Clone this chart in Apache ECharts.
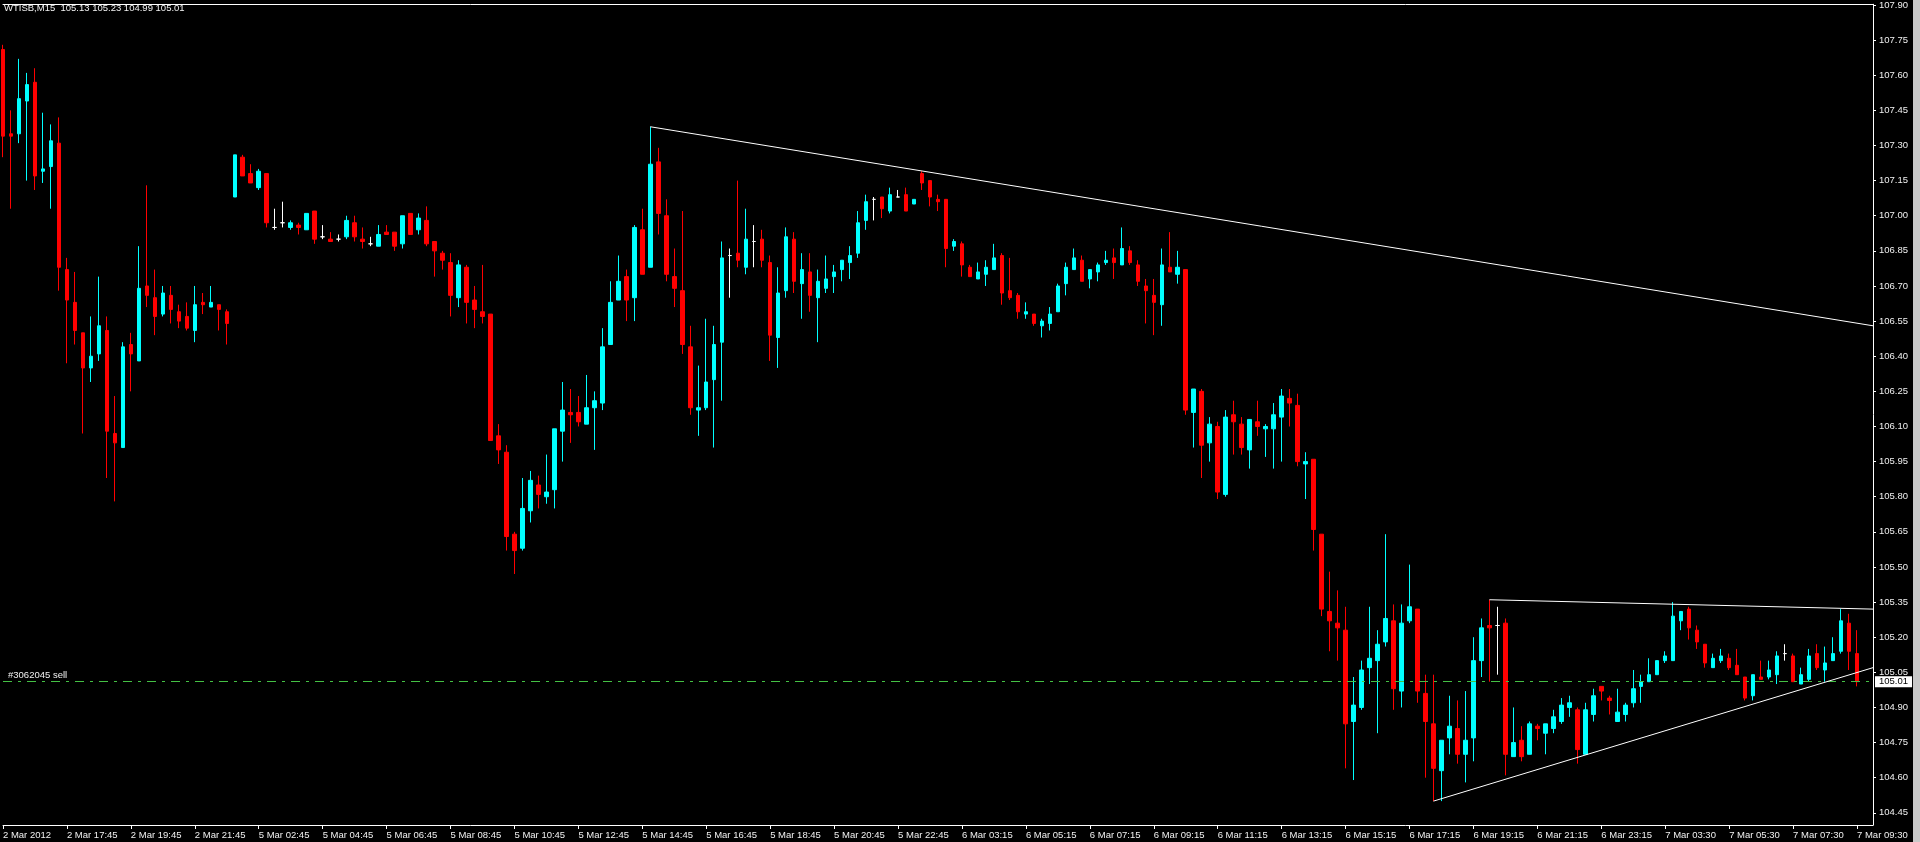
<!DOCTYPE html>
<html>
<head>
<meta charset="utf-8">
<script src="https://cdn.jsdelivr.net/npm/echarts@6/dist/echarts.min.js"></script>
<style>
html,body{margin:0;padding:0;background:#000;}
#chart{width:1920px;height:842px;}
</style>
</head>
<body>
<div id="chart"></div>
<script>
// ---- data (WTISB, M15) ----
const symbolName = 'WTISB,M15';
const opens = [
107.71,107.35,107.35,107.49,107.57,107.19,107.21,107.31,106.77,106.63,
106.50,106.35,106.41,106.51,106.07,106.01,106.45,106.38,106.70,106.65,
106.58,106.66,106.59,106.57,106.51,106.63,106.61,106.62,106.59,107.08,
107.25,107.18,107.12,107.18,106.95,106.97,106.95,106.96,106.94,107.02,
106.91,106.90,106.90,106.91,106.97,106.90,106.88,106.87,106.93,106.93,
106.88,107.01,106.94,106.98,106.89,106.84,106.80,106.65,106.78,106.64,
106.59,106.58,106.06,105.99,105.64,105.58,105.74,105.85,105.80,105.83,
106.08,106.16,106.16,106.11,106.18,106.20,106.45,106.64,106.74,106.65,
106.94,106.78,107.23,107.00,106.74,106.68,106.44,106.17,106.18,106.30,
106.46,106.83,106.84,106.78,106.89,106.90,106.80,106.48,106.68,106.90,
106.71,106.76,106.65,106.69,106.74,106.77,106.80,106.84,106.98,107.07,
107.08,107.02,107.08,107.09,107.05,107.18,107.15,107.07,107.07,106.87,
106.88,106.78,106.73,106.75,106.77,106.83,106.68,106.66,106.58,106.58,
106.53,106.54,106.59,106.71,106.77,106.81,106.73,106.76,106.80,106.82,
106.79,106.85,106.79,106.70,106.66,106.62,106.78,106.75,106.77,106.16,
106.25,106.03,106.10,105.81,106.15,106.11,106.00,106.12,106.09,106.09,
106.14,106.22,106.19,105.94,105.96,105.64,105.31,105.26,105.23,104.84,
104.90,105.07,105.10,105.18,105.27,104.97,105.27,105.32,104.96,104.83,
104.63,104.77,104.81,104.70,104.77,105.10,105.25,105.25,105.26,104.69,
104.76,104.70,104.82,104.79,104.81,104.84,104.90,104.89,104.70,104.87,
104.99,104.94,104.84,104.87,104.92,104.99,105.01,105.04,105.10,105.10,
105.27,105.32,105.23,105.17,105.07,105.10,105.11,105.08,105.03,104.95,
105.03,105.03,105.04,105.13,105.12,105.00,105.02,105.13,105.06,105.10,
105.14,105.26,105.13
];
const highs = [
107.73,107.45,107.67,107.61,107.63,107.44,107.39,107.42,106.82,106.76,
106.50,106.57,106.74,106.57,106.23,106.46,106.50,106.87,107.13,106.77,
106.70,106.70,106.62,106.63,106.70,106.67,106.70,106.62,106.60,107.26,
107.26,107.22,107.20,107.18,107.03,107.06,106.98,106.97,107.01,107.02,
106.96,106.93,106.92,107.00,107.00,106.95,106.91,106.96,106.96,106.93,
107.00,107.01,107.01,107.04,106.89,106.85,106.84,106.81,106.79,106.70,
106.79,106.58,106.11,106.02,105.65,105.88,105.91,105.89,105.98,106.09,
106.29,106.26,106.23,106.32,106.25,106.52,106.72,106.83,106.77,106.96,
107.03,107.38,107.29,107.07,106.86,107.02,106.53,106.36,106.56,106.53,
106.89,106.86,107.15,107.03,106.96,106.94,106.83,106.78,106.95,106.93,
106.84,106.84,106.77,106.83,106.79,106.81,106.87,107.02,107.09,107.08,
107.08,107.12,107.11,107.12,107.07,107.19,107.15,107.09,107.07,106.90,
106.89,106.79,106.80,106.81,106.88,106.84,106.82,106.67,106.63,106.58,
106.56,106.61,106.71,106.80,106.86,106.83,106.77,106.80,106.85,106.86,
106.95,106.87,106.81,106.73,106.73,106.86,106.93,106.85,106.77,106.26,
106.26,106.14,106.12,106.17,106.21,106.14,106.13,106.21,106.11,106.20,
106.26,106.26,106.24,105.99,105.96,105.64,105.48,105.40,105.33,105.03,
105.10,105.33,105.23,105.64,105.34,105.34,105.51,105.32,105.04,105.04,
104.76,104.95,104.93,104.97,105.20,105.28,105.36,105.33,105.28,104.90,
104.82,104.84,104.83,104.83,104.89,104.94,104.95,104.90,104.92,104.98,
104.99,104.95,104.98,104.92,105.06,105.04,105.11,105.10,105.14,105.35,
105.31,105.33,105.25,105.17,105.13,105.15,105.13,105.15,105.03,105.04,
105.10,105.10,105.14,105.17,105.13,105.07,105.15,105.17,105.16,105.20,
105.32,105.30,105.23
];
const lows = [
107.25,107.03,107.31,107.15,107.11,107.14,107.03,106.68,106.37,106.45,
106.07,106.29,106.38,105.88,105.78,106.01,106.25,106.38,106.61,106.49,
106.57,106.54,106.52,106.51,106.46,106.58,106.61,106.51,106.45,107.08,
107.17,107.14,107.11,106.95,106.94,106.95,106.94,106.92,106.94,106.88,
106.90,106.89,106.89,106.90,106.89,106.86,106.87,106.87,106.92,106.85,
106.86,106.92,106.92,106.87,106.74,106.77,106.57,106.61,106.54,106.52,
106.54,106.04,105.94,105.57,105.47,105.57,105.69,105.75,105.77,105.75,
105.95,106.03,106.10,106.11,106.00,106.17,106.45,106.64,106.55,106.55,
106.75,106.78,106.92,106.72,106.61,106.41,106.15,106.06,106.17,106.01,
106.21,106.65,106.78,106.75,106.78,106.78,106.38,106.35,106.65,106.67,
106.56,106.59,106.46,106.67,106.67,106.72,106.73,106.82,106.94,106.98,
106.99,107.01,107.08,107.02,107.05,107.11,107.04,107.02,106.78,106.85,
106.74,106.74,106.73,106.70,106.77,106.62,106.64,106.56,106.56,106.53,
106.48,106.51,106.59,106.66,106.77,106.72,106.69,106.72,106.79,106.73,
106.79,106.79,106.70,106.54,106.49,106.53,106.76,106.71,106.15,106.01,
105.88,105.95,105.79,105.80,105.98,105.98,105.92,106.06,105.97,105.92,
105.95,106.10,105.93,105.79,105.57,105.29,105.14,105.10,104.64,104.59,
104.89,105.00,104.79,105.16,104.89,104.90,105.26,104.92,104.60,104.50,
104.50,104.70,104.66,104.58,104.67,105.03,105.01,105.04,104.61,104.69,
104.67,104.70,104.76,104.70,104.79,104.83,104.86,104.66,104.70,104.84,
104.93,104.87,104.84,104.84,104.90,104.92,105.01,105.04,105.09,105.10,
105.23,105.19,105.15,105.07,105.07,105.09,105.06,105.04,104.93,104.93,
105.02,105.02,105.00,105.10,105.01,105.00,105.01,105.06,105.01,105.10,
105.13,105.06,104.99
];
const closes = [
107.34,107.34,107.50,107.56,107.17,107.20,107.32,106.78,106.64,106.51,
106.35,106.40,106.53,106.08,106.03,106.44,106.41,106.69,106.66,106.57,
106.67,106.60,106.55,106.52,106.62,106.62,106.63,106.60,106.54,107.26,
107.17,107.14,107.19,106.97,106.95,106.97,106.97,106.95,107.01,106.90,
106.91,106.89,106.90,106.98,106.91,106.89,106.88,106.92,106.92,106.87,
107.00,106.92,106.99,106.88,106.85,106.81,106.66,106.79,106.63,106.60,
106.57,106.04,106.00,105.63,105.57,105.75,105.87,105.81,105.82,106.09,
106.17,106.15,106.12,106.18,106.21,106.44,106.63,106.72,106.64,106.95,
106.75,107.22,107.01,106.75,106.69,106.45,106.18,106.18,106.29,106.45,
106.82,106.83,106.81,106.90,106.89,106.81,106.49,106.67,106.91,106.72,
106.77,106.66,106.72,106.73,106.76,106.81,106.83,106.97,107.06,107.07,
107.03,107.09,107.08,107.02,107.07,107.14,107.08,107.06,106.86,106.89,
106.79,106.74,106.76,106.78,106.82,106.67,106.65,106.59,106.59,106.54,
106.55,106.58,106.70,106.78,106.82,106.72,106.77,106.79,106.81,106.80,
106.86,106.80,106.72,106.68,106.63,106.79,106.76,106.78,106.17,106.26,
106.02,106.11,105.82,106.14,106.12,106.01,106.13,106.10,106.10,106.15,
106.23,106.20,105.95,105.95,105.66,105.32,105.27,105.24,104.83,104.91,
105.06,105.11,105.17,105.28,104.98,105.26,105.33,104.97,104.84,104.64,
104.76,104.82,104.70,104.76,105.10,105.24,105.24,105.25,104.70,104.75,
104.69,104.83,104.81,104.83,104.86,104.91,104.92,104.72,104.89,104.95,
104.97,104.93,104.88,104.91,104.98,105.01,105.04,105.10,105.12,105.29,
105.31,105.24,105.18,105.09,105.11,105.12,105.07,105.04,104.94,105.04,
105.02,105.06,105.12,105.13,105.01,105.04,105.12,105.07,105.09,105.13,
105.27,105.14,105.01
];
// time-scale labels, one every 8 bars
const tickLabels = [
'2 Mar 2012','2 Mar 17:45','2 Mar 19:45','2 Mar 21:45','5 Mar 02:45','5 Mar 04:45',
'5 Mar 06:45','5 Mar 08:45','5 Mar 10:45','5 Mar 12:45','5 Mar 14:45','5 Mar 16:45',
'5 Mar 18:45','5 Mar 20:45','5 Mar 22:45','6 Mar 03:15','6 Mar 05:15','6 Mar 07:15',
'6 Mar 09:15','6 Mar 11:15','6 Mar 13:15','6 Mar 15:15','6 Mar 17:15','6 Mar 19:15',
'6 Mar 21:15','6 Mar 23:15','7 Mar 03:30','7 Mar 05:30','7 Mar 07:30','7 Mar 09:30'
];
const tickEvery = 8;
const emptyBarsRight = 2;
// price scale
const priceMin = 104.398;
const priceMax = 107.903;
const priceTicks = [104.45,104.60,104.75,104.90,105.05,105.20,105.35,105.50,105.65,105.80,105.95,106.10,
  106.25,106.40,106.55,106.70,106.85,107.00,107.15,107.30,107.45,107.60,107.75,107.90];
// trend lines: [bar index, price]
const trendDown = [[81,107.38],[234,106.53]];
const triangleTop = [[186,105.36],[234,105.32]];
const triangleBottom = [[179,104.50],[234,105.07]];
// open order
const orderLabel = '#3062045 sell';
const orderPrice = 105.01;

// ---- build ----
const nBars = opens.length;
const categories = [];
for (let i = 0; i < nBars + emptyBarsRight; i++) categories.push(String(i));
const candleData = opens.map((o, i) => {
  const item = { value: [o, closes[i], lows[i], highs[i]] };
  if (o === closes[i]) {
    item.itemStyle = { color: '#ffffff', color0: '#ffffff', borderColor: '#ffffff', borderColor0: '#ffffff' };
  }
  return item;
});
const last = nBars - 1;
const titleText = symbolName + '  ' + opens[last].toFixed(2) + ' ' + highs[last].toFixed(2) + ' ' +
  lows[last].toFixed(2) + ' ' + closes[last].toFixed(2);

const FONT_NAME = 'Liberation Sans';
const FONT = 'Liberation Sans, Arial, sans-serif';
const FS = 9.5;

const chart = echarts.init(document.getElementById('chart'), null, { renderer: 'canvas' });
const lineSeries = (data) => ({
  type: 'line', data: data, symbol: 'none', silent: true, animation: false,
  lineStyle: { color: '#ffffff', width: 1 }, z: 5
});
chart.setOption({
  backgroundColor: '#000000',
  animation: false,
  grid: { left: 0, right: 47, top: 1, bottom: 17, containLabel: false },
  xAxis: [{
    type: 'category', data: categories, boundaryGap: false,
    axisLine: { show: true, lineStyle: { color: '#ffffff', width: 1 } },
    axisTick: { show: true, interval: tickEvery - 1, length: 4, lineStyle: { color: '#ffffff' } },
    axisLabel: {
      show: true, interval: tickEvery - 1, align: 'left', margin: 5,
      color: '#f0f0f0', fontSize: FS, fontFamily: FONT,
      formatter: (v, i) => (i % tickEvery === 0 && tickLabels[i / tickEvery]) ? tickLabels[i / tickEvery] : ''
    },
    splitLine: { show: false }
  }, {
    type: 'category', data: categories, boundaryGap: false, position: 'top',
    axisLine: { show: true, lineStyle: { color: '#ffffff', width: 1 } },
    axisTick: { show: false }, axisLabel: { show: false }, splitLine: { show: false }
  }],
  yAxis: {
    type: 'value', position: 'right', min: priceMin, max: priceMax,
    axisLine: { show: true, lineStyle: { color: '#ffffff', width: 1 } },
    axisTick: { show: true, length: 3, customValues: priceTicks, lineStyle: { color: '#ffffff' } },
    axisLabel: {
      show: true, customValues: priceTicks, margin: 6, color: '#f0f0f0', fontSize: FS, fontFamily: FONT,
      formatter: (v) => Number(v).toFixed(2)
    },
    splitLine: { show: false }
  },
  series: [{
    type: 'candlestick', data: candleData, barWidth: 4, clip: true,
    itemStyle: {
      color: '#00ffff', color0: '#ff0000', borderColor: '#00ffff', borderColor0: '#ff0000',
      borderColorDoji: '#ffffff', borderWidth: 1
    },
    markLine: {
      silent: true, symbol: ['none', 'none'], animation: false,
      data: [{
        yAxis: orderPrice,
        lineStyle: { color: '#44c044', width: 1, type: [9, 6, 3, 6] },
        label: {
          show: true, position: 'insideStartTop', formatter: orderLabel, distance: [5, 1],
          color: '#f0f0f0', fontSize: FS, fontFamily: FONT
        }
      }, {
        yAxis: closes[last],
        lineStyle: { color: 'rgba(0,0,0,0)', width: 0 },
        label: {
          show: true, position: 'end', distance: 2, formatter: closes[last].toFixed(2),
          color: '#000000', backgroundColor: '#ffffff', padding: [1, 4, 0, 4],
          fontSize: FS, fontFamily: FONT
        }
      }]
    }
  },
  lineSeries(trendDown), lineSeries(triangleTop), lineSeries(triangleBottom)],
  graphic: [{
    type: 'text', left: 4, top: 3, silent: true,
    style: { text: titleText, fill: '#f2f2f2', font: FS + 'px "' + FONT_NAME + '", Arial, sans-serif' }
  }, {
    type: 'rect', right: 0, top: 0, shape: { width: 7, height: 842 },
    style: { fill: '#c8c8c8' }, silent: true
  }]
});
</script>
</body>
</html>
